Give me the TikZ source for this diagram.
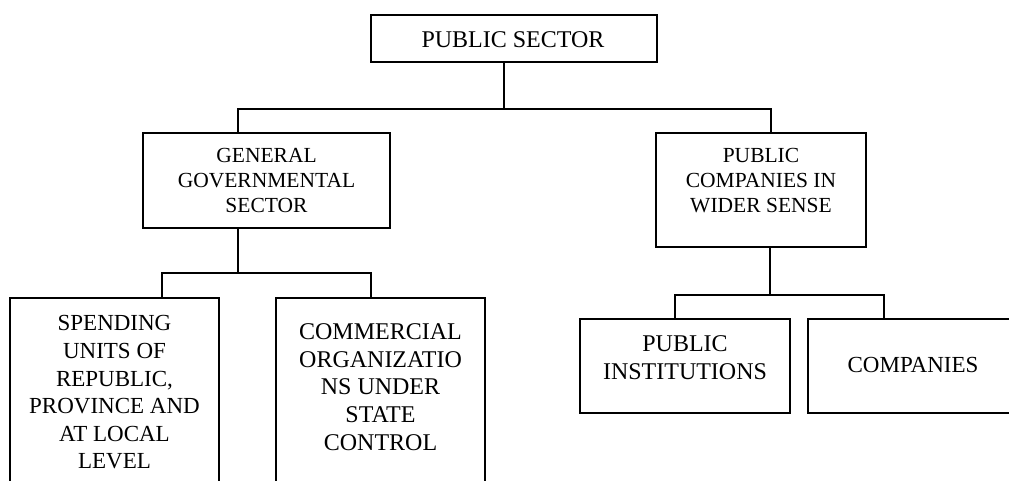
\documentclass[tikz,border=0pt]{standalone}
\usepackage{fontspec}
\setmainfont{Liberation Serif}
\begin{document}
\begin{tikzpicture}[x=1pt,y=-1pt,
  rectbox/.style 2 args={draw, line width=1.2pt, minimum width=#1, minimum height=#2, inner sep=0pt, outer sep=0pt},
  conn/.style={line width=1.2pt},
  lbl/.style={inner sep=0pt, align=center, anchor=north},
  fa/.style={font=\fontsize{21.5}{25}\selectfont},
  fb/.style={font=\fontsize{23}{27.6}\selectfont},
  fc/.style={font=\fontsize{24}{27.7}\selectfont}]
\useasboundingbox (0,0) rectangle (1009,481);
\clip (0,0) rectangle (1009,481);
% boxes
\node[rectbox={286pt}{47pt}] (top) at (514,38.5) {};
\node[rectbox={247pt}{95pt}] (ggs) at (266.5,180.5) {};
\node[rectbox={210pt}{114pt}] (pcws) at (761,190) {};
\node[rectbox={209pt}{262pt}] (spend) at (114.5,429) {};
\node[rectbox={209pt}{262pt}] (comm) at (380.5,429) {};
\node[rectbox={210pt}{94pt}] (pinst) at (685,366) {};
\node[rectbox={210pt}{94pt}] (comp) at (913,366) {};
% labels
\node[inner sep=0pt, font=\fontsize{24}{27}\selectfont] (ttop) at (513,40) {PUBLIC SECTOR};
\node[lbl, fa] (tggs) at (266.5,148) {GENERAL\\GOVERNMENTAL\\SECTOR};
\node[lbl, fa] (tpcws) at (761,148) {PUBLIC\\COMPANIES IN\\WIDER SENSE};
\node[lbl, fb] (tspend) at (114.5,315.5) {SPENDING\\UNITS OF\\REPUBLIC,\\PROVINCE AND\\AT LOCAL\\LEVEL};
\node[lbl, fc] (tcomm) at (380.5,323.5) {COMMERCIAL\\ORGANIZATIO\\NS UNDER\\STATE\\CONTROL};
\node[lbl, fc] (tpinst) at (685,335.5) {PUBLIC\\INSTITUTIONS};
\node[lbl, fb] (tcomp) at (913,357) {COMPANIES};
% connectors
\draw[conn] ([xshift=-10pt]top.south) -- ++(0,47) coordinate (j1);
\draw[conn] ([xshift=-28.5pt]ggs.north) |- (j1) -| ([xshift=10pt]pcws.north);
\draw[conn] ([xshift=-28.5pt]ggs.south) -- ++(0,45) coordinate (j2);
\draw[conn] ([xshift=47.5pt]spend.north) |- (j2) -| ([xshift=-9.5pt]comm.north);
\draw[conn] ([xshift=9pt]pcws.south) -- ++(0,48) coordinate (j3);
\draw[conn] ([xshift=-10pt]pinst.north) |- (j3) -| ([xshift=-29pt]comp.north);
\end{tikzpicture}
\end{document}
